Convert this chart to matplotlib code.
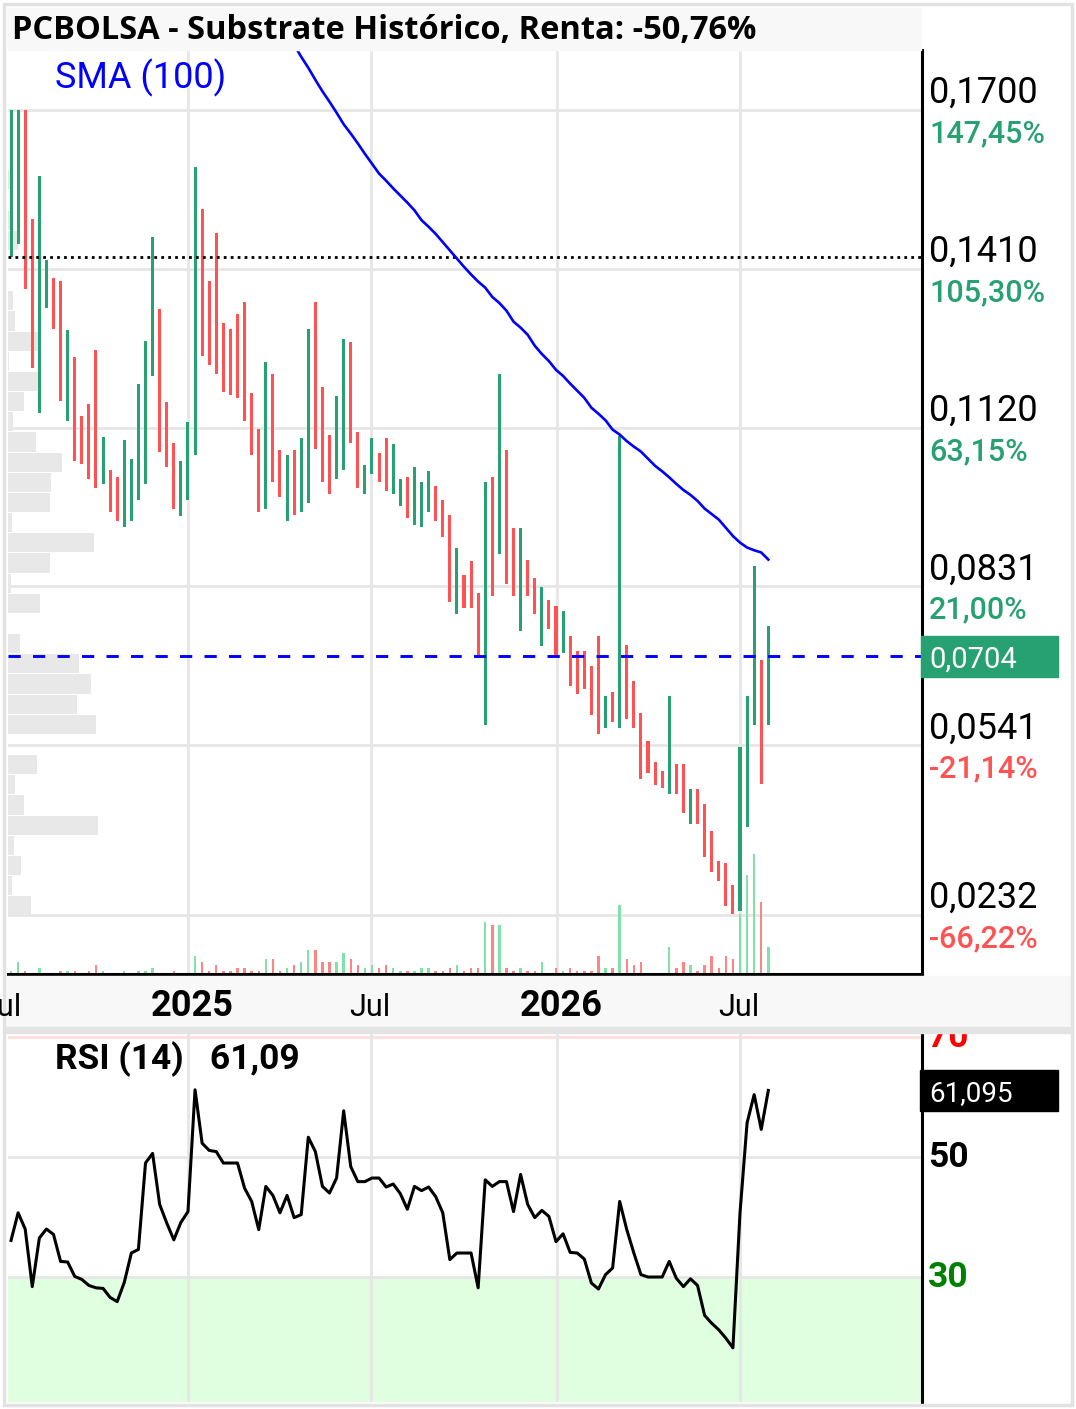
import numpy as np
import pandas as pd
import matplotlib
matplotlib.use("Agg")
import matplotlib.pyplot as plt
import matplotlib.dates as mdates
from matplotlib.patches import Rectangle
from matplotlib.transforms import blended_transform_factory as blend

plt.rcParams['font.family'] = ['Roboto', 'DejaVu Sans']

W, H = 1076, 1409

# ---- data (weekly bars) ----
dates = pd.date_range("2024-07-10", periods=108, freq="7D")

low = [0.1432, 0.1455, 0.1373, 0.1230, 0.1148, 0.1339, 0.1301, 0.1169, 0.1132, 0.1059,
       0.1054, 0.1027, 0.1011, 0.1017, 0.0967, 0.0950, 0.0939, 0.0951, 0.0989, 0.1017,
       0.1214, 0.1077, 0.1049, 0.0972, 0.0960, 0.0989, 0.1071, 0.1251, 0.1235, 0.1219,
       0.1186, 0.1181, 0.1175, 0.1132, 0.1071, 0.0966, 0.0972, 0.1021, 0.0994, 0.0950,
       0.0961, 0.0966, 0.0983, 0.1081, 0.1021, 0.0999, 0.1027, 0.1043, 0.1092, 0.1010,
       0.0999, 0.1037, 0.1021, 0.1005, 0.0999, 0.0977, 0.0955, 0.0944, 0.0939, 0.0966,
       0.0950, 0.0922, 0.0802, 0.0781, 0.0792, 0.0792, 0.0704, 0.0578, 0.0814, 0.0891,
       0.0836, 0.0814, 0.0749, 0.0814, 0.0781, 0.0722, 0.0753, 0.0703, 0.0710, 0.0649,
       0.0634, 0.0644, 0.0596, 0.0562, 0.0573, 0.0584, 0.0573, 0.0589, 0.0573, 0.0480,
       0.0491, 0.0468, 0.0463, 0.0452, 0.0452, 0.0418, 0.0397, 0.0397, 0.0337, 0.0310,
       0.0294, 0.0249, 0.0233, 0.0239, 0.0393, 0.0579, 0.0470, 0.0579]

high = [0.1700, 0.1700, 0.1700, 0.1502, 0.1579, 0.1426, 0.1393, 0.1388, 0.1299, 0.1250,
        0.1141, 0.1163, 0.1262, 0.1103, 0.1043, 0.1031, 0.1098, 0.1064, 0.1200, 0.1279,
        0.1469, 0.1337, 0.1168, 0.1092, 0.1059, 0.1131, 0.1596, 0.1519, 0.1388, 0.1476,
        0.1311, 0.1300, 0.1328, 0.1349, 0.1184, 0.1119, 0.1240, 0.1218, 0.1080, 0.1070,
        0.1080, 0.1102, 0.1300, 0.1349, 0.1195, 0.1108, 0.1179, 0.1283, 0.1277, 0.1113,
        0.1053, 0.1102, 0.1075, 0.1102, 0.1091, 0.1027, 0.1031, 0.1048, 0.1021, 0.1042,
        0.1015, 0.0988, 0.0961, 0.0901, 0.0851, 0.0878, 0.0819, 0.1021, 0.1031, 0.1218,
        0.1080, 0.0938, 0.0938, 0.0879, 0.0846, 0.0830, 0.0807, 0.0796, 0.0786, 0.0741,
        0.0714, 0.0714, 0.0686, 0.0741, 0.0632, 0.0639, 0.1105, 0.0725, 0.0659, 0.0600,
        0.0550, 0.0511, 0.0495, 0.0632, 0.0507, 0.0507, 0.0462, 0.0462, 0.0435, 0.0385,
        0.0330, 0.0326, 0.0287, 0.0539, 0.0632, 0.0868, 0.0697, 0.0758]

direction = ("GGRRGGRRGR" "RRRGRRGGGG" "GRRRGGGRRR" "RRRRRRGRRG" "RGGRRRGGRR"
             "GGRRGGRGGG" "RRRGRRRGRG" "RRGRRGRRGR" "RRRRGRGRRR" "RRRGRRGRRR" "RRRGGGRG")

volume = [3, 12, 3, 0, 6, 0, 0, 3, 3, 3, 0, 3, 9, 3, 0, 0, 3, 0, 3, 3,
          6, 0, 0, 3, 0, 0, 18, 12, 3, 9, 3, 3, 6, 6, 3, 3, 15, 15, 3, 6,
          9, 12, 24, 24, 12, 12, 12, 21, 15, 9, 6, 9, 6, 9, 6, 3, 3, 3, 6, 6,
          3, 3, 6, 9, 3, 6, 6, 52, 49, 49, 6, 3, 6, 3, 3, 12, 0, 6, 3, 6,
          3, 3, 3, 18, 6, 6, 69, 15, 9, 12, 0, 0, 0, 27, 6, 12, 9, 3, 9, 18,
          6, 18, 15, 60, 99, 120, 72, 27]

sma_start = 40
sma100 = [0.1819, 0.1797, 0.1777, 0.1755, 0.1734, 0.1715, 0.1695, 0.1674, 0.1657, 0.1639,
          0.1620, 0.1602, 0.1584, 0.1571, 0.1557, 0.1544, 0.1531, 0.1517, 0.1499, 0.1487,
          0.1474, 0.1459, 0.1444, 0.1429, 0.1414, 0.1400, 0.1387, 0.1376, 0.1359, 0.1348,
          0.1334, 0.1314, 0.1303, 0.1290, 0.1270, 0.1255, 0.1242, 0.1226, 0.1215, 0.1201,
          0.1188, 0.1175, 0.1157, 0.1146, 0.1134, 0.1117, 0.1108, 0.1096, 0.1086, 0.1077,
          0.1064, 0.1051, 0.1041, 0.1030, 0.1018, 0.1007, 0.0998, 0.0987, 0.0973, 0.0963,
          0.0953, 0.0938, 0.0923, 0.0911, 0.0902, 0.0897, 0.0893, 0.0880]

rsi = [36.1, 40.7, 38.0, 28.4, 36.5, 38.0, 37.1, 32.6, 32.5, 30.1,
       29.6, 28.6, 28.2, 28.1, 26.6, 25.9, 29.1, 34.0, 34.6, 49.0,
       50.6, 42.1, 39.0, 36.2, 39.1, 40.9, 61.2, 52.3, 51.1, 50.9,
       49.0, 49.0, 49.0, 44.8, 42.6, 37.9, 45.1, 43.6, 40.7, 43.6,
       39.9, 40.4, 53.3, 50.9, 45.1, 44.0, 46.5, 57.7, 48.4, 45.9,
       45.9, 46.5, 46.5, 45.0, 45.5, 43.9, 41.3, 45.1, 44.4, 45.0,
       43.4, 40.7, 32.9, 34.0, 34.0, 34.0, 28.2, 46.2, 45.1, 45.9,
       45.9, 40.9, 47.1, 42.1, 39.9, 41.1, 40.1, 35.9, 37.2, 34.1,
       34.0, 33.0, 29.0, 28.0, 30.4, 31.5, 42.6, 37.9, 34.0, 30.4,
       30.0, 30.0, 30.0, 32.6, 29.8, 28.4, 29.7, 28.6, 23.6, 22.3,
       21.2, 19.8, 18.2, 40.7, 55.7, 60.4, 54.6, 61.095]

# volume profile, top bin first
prof_lo, prof_hi = 0.0230, 0.1591
prof_vol = [3, 0, 3, 10, 0, 0, 5, 7, 30, 1, 30, 16, 5, 28, 54, 43, 42, 4, 86,
            42, 3, 32, 0, 12, 71, 83, 69, 88, 0, 29, 7, 16, 90, 6, 13, 4, 23]

price_ticks = [0.1700, 0.1410, 0.1120, 0.0831, 0.0541, 0.0232]
pct_labels = ['147,45%', '105,30%', '63,15%', '21,00%', '-21,14%', '-66,22%']
last_price = 0.0704
start_price = 0.1432
rsi_last = rsi[-1]
title = "PCBOLSA - Substrate Histórico, Renta: -50,76%"

GREEN = '#27a072'
RED = '#ff5252'
VGREEN = '#80e2a8'
VRED = '#ff8585'
GRID = '#e6e6e6'

# ---- figure ----
fig = plt.figure(figsize=(W / 100, H / 100), dpi=100)
fig.patch.set_facecolor('white')


def box(x0, y0, x1, y1):
    return [x0 / W, 1 - y1 / H, (x1 - x0) / W, (y1 - y0) / H]


def fig_rect(x0, y0, x1, y1, **kw):
    r = Rectangle((x0 / W, 1 - y1 / H), (x1 - x0) / W, (y1 - y0) / H,
                  transform=fig.transFigure, **kw)
    fig.add_artist(r)
    return r


x = mdates.date2num(dates)
t0 = mdates.date2num(pd.Timestamp("2025-01-01"))
xlim = (t0 - 178.0, t0 + 726.0)
vgrid = mdates.date2num(pd.to_datetime(["2025-01-01", "2025-07-01", "2026-01-01", "2026-07-01"]))

low = np.array(low)
high = np.array(high)
up = np.array([c == 'G' for c in direction])

# price panel
ax = fig.add_axes(box(8, 50, 922, 974))
ylim = (0.01242, 0.18094)
ax.set_xlim(xlim)
ax.set_ylim(ylim)
ax.set_xticks([])
ax.set_yticks([])
for s in ['left', 'top']:
    ax.spines[s].set_visible(False)
for s in ['right', 'bottom']:
    ax.spines[s].set_linewidth(2.2)
    ax.spines[s].set_color('black')

for p in price_ticks:
    ax.axhline(p, color=GRID, lw=2, zorder=0.5)
for v in vgrid:
    ax.axvline(v, color=GRID, lw=2, zorder=0.5)

# volume profile
edges = np.linspace(prof_lo, prof_hi, len(prof_vol) + 1)
centers = (edges[:-1] + edges[1:]) / 2
xspan = xlim[1] - xlim[0]
ax.barh(centers[::-1], np.array(prof_vol) * xspan / 914, left=xlim[0],
        height=(edges[1] - edges[0]) * 0.95, color='#e8e8e8', zorder=1)

# volume bars
yspan = ylim[1] - ylim[0]
ax.bar(x, np.array(volume) * yspan / 924, bottom=ylim[0], width=2.4,
       color=np.where(up, VGREEN, VRED), zorder=1.5, linewidth=0)

# price bars
ax.bar(x, high - low, bottom=low, width=3.0,
       color=np.where(up, GREEN, RED), zorder=2, linewidth=0)

ax.plot(x[sma_start:], sma100, color='#0000ff', lw=1.9, zorder=4)
ax.axhline(start_price, color='black', lw=2.0, dashes=(1.0, 1.5), zorder=3)
ax.axhline(last_price, color='#0000ff', lw=2.1, dashes=(4.2, 4.2), zorder=3)

for p, lab in zip(price_ticks, pct_labels):
    ax.annotate(f'{p:.4f}'.replace('.', ','), xy=(1, p),
                xycoords=('axes fraction', 'data'), xytext=(5, 5),
                textcoords='offset points', va='baseline', fontsize=26,
                annotation_clip=False)
    ax.annotate(lab, xy=(1, p), xycoords=('axes fraction', 'data'),
                xytext=(5, -23), textcoords='offset points', va='baseline',
                fontsize=22, fontweight='medium',
                color=GREEN if not lab.startswith('-') else RED,
                annotation_clip=False)

hh = 20.5 * yspan / 924
ax.add_patch(Rectangle((0.999, last_price - hh), 137 / 914, 2 * hh,
                       transform=blend(ax.transAxes, ax.transData),
                       color=GREEN, clip_on=False, zorder=5))
ax.annotate(f'{last_price:.4f}'.replace('.', ','), xy=(1, last_price),
            xycoords=('axes fraction', 'data'), xytext=(5, -8),
            textcoords='offset points', va='baseline', fontsize=21,
            color='white', annotation_clip=False, zorder=6)

# rsi panel
rx = fig.add_axes(box(8, 1033, 922, 1402))
rx.set_xlim(xlim)
rx.set_ylim(9.17, 70.67)
rx.set_xticks([])
rx.set_yticks([])
for s in ['left', 'top', 'bottom']:
    rx.spines[s].set_visible(False)
rx.spines['right'].set_linewidth(2.2)
rx.spines['right'].set_color('black')
rx.axhspan(0, 30, color='#e0ffe0', zorder=0.2)
rx.axhline(70, color='#ffdede', lw=2, zorder=0.5)
for lvl in [50, 30]:
    rx.axhline(lvl, color=GRID, lw=2, zorder=0.5)
for v in vgrid:
    rx.axvline(v, color=GRID, lw=2, zorder=0.5)
rx.plot(x, rsi, color='black', lw=2.2, zorder=3)

for lvl, col in [(70, '#ff0000'), (50, 'black'), (30, '#008000')]:
    rx.annotate(str(lvl), xy=(1, lvl), xycoords=('axes fraction', 'data'),
                xytext=(4.5, -7.5), textcoords='offset points', va='baseline',
                fontsize=25.5, fontweight='bold', color=col, annotation_clip=False)

rh = 20.5 * (70.67 - 9.17) / 369
rx.add_patch(Rectangle((0.9975, rsi_last - rh), 138 / 914, 2 * rh,
                       transform=blend(rx.transAxes, rx.transData),
                       color='black', clip_on=False, zorder=5))
rx.annotate(f'{rsi_last:.3f}'.replace('.', ','), xy=(1, rsi_last),
            xycoords=('axes fraction', 'data'), xytext=(5, -7.5),
            textcoords='offset points', va='baseline', fontsize=20,
            color='white', annotation_clip=False, zorder=6)

# bands, title and labels
fig_rect(8, 8, 921, 50, color='#f8f8f8', zorder=1)
fig_rect(5, 976, 1071, 1027, color='#f8f8f8', zorder=1)
fig_rect(5, 1027, 1071, 1033, color='#e4e4e4', zorder=1)
fig_rect(4, 4, 1072, 1405, fill=False, ec='#e2e2e2', lw=2.5, zorder=2)

fig.text(12 / W, 1 - 39 / H, title, va='baseline', fontsize=23.5,
         fontweight='bold', family=['Open Sans', 'DejaVu Sans'], zorder=3)
fig.text(55 / W, 1 - 88 / H, "SMA (100)", va='baseline', fontsize=26,
         color='#0000ff', zorder=3)
rsi_shown = np.floor(rsi_last * 100) / 100
fig.text(55 / W, 1 - 1069 / H, f"RSI (14)   {rsi_shown:.2f}".replace('.', ','),
         va='baseline', fontsize=25.5, fontweight='bold', zorder=3)

date_labels = [("2024-07-01", "Jul", 'normal'), ("2025-01-01", "2025", 'bold'),
               ("2025-07-01", "Jul", 'normal'), ("2026-01-01", "2026", 'bold'),
               ("2026-07-01", "Jul", 'normal')]
dtr = blend(ax.transData, fig.transFigure)
for d, lab, wt in date_labels:
    shift = 4 if wt == 'bold' else -1
    fig.text(mdates.date2num(pd.Timestamp(d)) + shift, 1 - 1016 / H, lab,
             transform=dtr, ha='center', va='baseline',
             fontsize=26 if wt == 'bold' else 22, fontweight=wt, zorder=3)

fig.savefig('out.png', dpi=100, facecolor='white')
